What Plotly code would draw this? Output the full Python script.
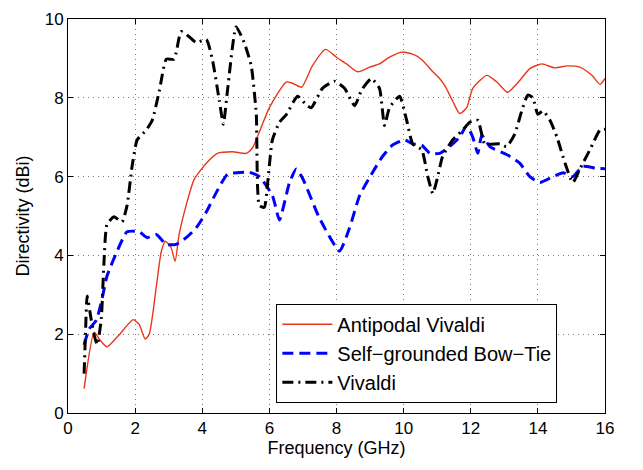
import plotly.graph_objects as go

# Antipodal Vivaldi directivity (GHz, dBi)
av_f = [0.48, 0.78, 0.93, 1.16, 1.52, 1.94, 2.12, 2.30, 2.42, 2.63, 2.78, 2.90, 3.07, 3.19, 3.31,
        3.52, 3.76, 4.12, 4.45, 4.90, 5.31, 5.49, 5.70, 6.0, 6.5, 6.69, 6.96, 7.28, 7.67, 8.0,
        8.3, 8.63, 8.99, 9.28, 9.58, 9.94, 10.27, 10.53, 10.87, 11.07, 11.22, 11.46, 11.67, 11.88,
        12.06, 12.48, 12.78, 13.1, 13.46, 13.76, 14.12, 14.5, 14.87, 15.25, 15.61, 15.85, 16.0]
av_d = [0.62, 2.05, 1.88, 1.68, 1.98, 2.37, 2.25, 1.88, 2.0, 3.2, 4.1, 4.36, 4.2, 3.85, 4.53,
        5.27, 5.93, 6.34, 6.59, 6.63, 6.59, 6.72, 7.13, 7.75, 8.4, 8.37, 8.27, 8.81, 9.23, 9.03,
        8.86, 8.66, 8.78, 8.86, 9.03, 9.16, 9.11, 8.98, 8.66, 8.49, 8.32, 7.92, 7.6, 7.75,
        8.24, 8.57, 8.4, 8.14, 8.44, 8.74, 8.86, 8.76, 8.81, 8.78, 8.57, 8.34, 8.49]

# Self-grounded Bow-Tie directivity
bt_f = [0.48, 0.63, 0.84, 0.99, 1.16, 1.46, 1.76, 2.12, 2.36, 2.63, 2.93, 3.22, 3.52, 3.82, 4.12,
        4.42, 4.75, 5.04, 5.4, 5.7, 6.09, 6.3, 6.6, 6.8, 7.0, 7.49, 8.09, 8.39, 8.69, 9.07, 9.37,
        9.67, 10.03, 10.27, 10.54, 10.78, 11.07, 11.37, 11.67, 11.88, 12.06, 12.21, 12.33, 12.57,
        13.07, 13.46, 13.76, 14.06, 14.45, 14.75, 15.04, 15.34, 15.76, 16.0]
bt_d = [1.73, 2.13, 2.35, 2.8, 3.47, 4.1, 4.6, 4.6, 4.45, 4.53, 4.28, 4.28, 4.45, 4.7, 5.1,
        5.6, 6.06, 6.1, 6.11, 6.0, 5.52, 4.9, 5.85, 6.19, 5.94, 4.95, 4.11, 4.7, 5.52, 6.1, 6.51,
        6.8, 6.93, 6.83, 6.8, 6.59, 6.59, 6.76, 7.0, 7.3, 7.0, 6.59, 7.05, 6.76,
        6.56, 6.34, 6.0, 5.85, 6.0, 6.1, 6.0, 6.26, 6.21, 6.2]

# Vivaldi directivity
vv_f = [0.48, 0.52, 0.57, 0.69, 0.78, 0.87, 0.99, 1.07, 1.16, 1.37, 1.61, 1.76, 1.91, 2.06, 2.33,
        2.51, 2.72, 2.93, 3.16, 3.37, 3.61, 3.82, 4.12, 4.30, 4.51, 4.63, 4.75, 5.01, 5.25, 5.46,
        5.61, 5.70, 5.85, 5.94, 6.09, 6.30, 6.51, 6.84, 7.10, 7.25, 7.58, 7.94, 8.24, 8.54, 8.75,
        9.04, 9.28, 9.43, 9.58, 9.88, 10.09, 10.27, 10.54, 10.72, 10.87, 11.0, 11.16, 11.46, 11.76,
        11.97, 12.21, 12.42, 12.87, 13.07, 13.31, 13.52, 13.70, 13.85, 14.0, 14.15, 14.36, 14.57,
        14.81, 15.04, 15.25, 15.55, 15.85, 16.0]
vv_d = [1.0, 1.98, 2.97, 2.38, 1.98, 1.73, 2.38, 3.79, 4.78, 4.98, 4.85, 5.27, 6.26, 6.93, 7.18,
        7.43, 8.17, 8.98, 8.98, 9.68, 9.55, 9.4, 9.48, 8.98, 7.92, 7.33, 8.17, 9.8, 9.4, 8.81,
        7.58, 5.27, 5.22, 5.77, 6.93, 7.38, 7.58, 8.04, 7.82, 7.75, 8.24, 8.42, 8.24, 7.8, 8.2,
        8.49, 8.24, 7.3, 7.75, 8.04, 7.43, 6.83, 6.68, 6.0, 5.57, 5.94, 6.51, 6.93, 7.18,
        7.38, 7.43, 6.83, 6.83, 6.76, 7.08, 7.67, 8.07, 8.0, 7.58, 7.67, 7.43, 7.0,
        6.34, 5.85, 6.19, 6.68, 7.18, 7.2]

x_ticks = [0, 2, 4, 6, 8, 10, 12, 14, 16]
y_ticks = [0, 2, 4, 6, 8, 10]

FONT = "Liberation Sans, Arial, sans-serif"

fig = go.Figure()
fig.add_trace(go.Scatter(x=av_f, y=av_d, mode="lines", name="Antipodal Vivaldi",
                         line=dict(color="#e8371a", width=1.4, shape="spline", smoothing=0.6)))
fig.add_trace(go.Scatter(x=bt_f, y=bt_d, mode="lines", name="Self\u2212grounded Bow\u2212Tie",
                         line=dict(color="#0000ff", width=3, dash="11px,6px",
                                   shape="spline", smoothing=0.5)))
fig.add_trace(go.Scatter(x=vv_f, y=vv_d, mode="lines", name="Vivaldi",
                         line=dict(color="#000000", width=3, dash="11px,5px,2px,5px",
                                   shape="spline", smoothing=0.5)))

axis_common = dict(
    showline=True, linecolor="black", linewidth=1, mirror="allticks",
    ticks="inside", ticklen=5, tickcolor="black",
    showgrid=True, gridcolor="#7a7a7a", griddash="1px,4px", gridwidth=1,
    zeroline=False, tickfont=dict(size=17, color="black", family=FONT),
)

fig.update_xaxes(range=[0, 16], tickvals=x_ticks,
                 title=dict(text="Frequency (GHz)", font=dict(size=18, color="black", family=FONT),
                            standoff=2),
                 **axis_common)
fig.update_yaxes(range=[0, 10], tickvals=y_ticks,
                 title=dict(text="Directivity (dBi)", font=dict(size=18, color="black", family=FONT),
                            standoff=10),
                 **axis_common)

fig.update_layout(
    width=643, height=470,
    margin=dict(l=68, r=38, t=10, b=57),
    plot_bgcolor="white", paper_bgcolor="white",
    font=dict(family=FONT, color="black"),
    legend=dict(x=0.388, y=0.026, xanchor="left", yanchor="bottom",
                bgcolor="white", bordercolor="black", borderwidth=1,
                font=dict(size=20, family=FONT, color="black"),
                tracegroupgap=0, itemwidth=50,
                entrywidth=250, entrywidthmode="pixels"),
    showlegend=True,
)

fig.write_html("out.html")
